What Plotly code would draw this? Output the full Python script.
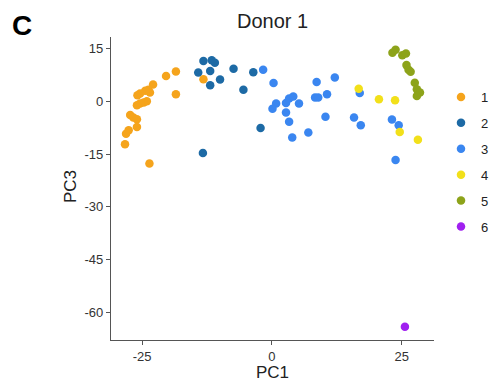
import plotly.graph_objects as go

# PCA coordinates per cluster
c1_pc1 = [-18.5, -20.4, -18.5, -22.9, -23.8, -23.5, -24.4, -25.4, -25.9, -24.1, -24.7, -25.4,
          -26.0, -27.3, -26.7, -26.0, -27.6, -28.1, -28.3, -26.0, -23.6, -13.2]
c1_pc3 = [8.5, 7.2, 2.0, 4.8, 3.3, 2.5, 3.0, 2.2, 1.7, 0.0, -0.3, -0.6,
          -1.1, -3.9, -4.6, -5.1, -8.2, -9.2, -12.2, -7.3, -17.7, 6.3]

c2_pc1 = [-14.2, -11.9, -13.2, -11.6, -11.0, -11.9, -10.0, -7.4, -3.6, -5.5, -2.2, -13.3]
c2_pc3 = [8.2, 8.6, 11.5, 11.7, 11.0, 4.6, 6.2, 9.3, 8.3, 3.3, -7.6, -14.7]

c3_pc1 = [-1.7, 0.3, 0.8, 0.1, 2.7, 3.3, 4.1, 5.2, 2.7, 3.3, 3.9, 7.0, 8.6, 8.3, 8.9,
          10.6, 10.3, 12.1, 16.9, 15.8, 17.1, 23.1, 24.4, 23.8]
c3_pc3 = [9.0, 5.2, -0.6, -2.1, -0.5, 0.8, 1.4, -0.6, -3.2, -5.8, -10.3, -8.9, 5.5, 1.1, 1.1,
          2.0, -4.4, 6.8, 2.4, -4.6, -6.8, -5.2, -6.8, -16.7]

c4_pc1 = [16.7, 20.6, 23.7, 24.6, 28.1]
c4_pc3 = [3.6, 0.6, 0.3, -8.7, -10.9]

c5_pc1 = [23.2, 23.8, 25.1, 25.8, 25.9, 26.3, 26.7, 27.5, 27.9, 28.5, 27.9]
c5_pc3 = [13.8, 14.7, 13.1, 13.6, 10.3, 9.0, 8.4, 5.3, 3.4, 2.5, 1.5]

c6_pc1 = [25.6]
c6_pc3 = [-64.1]

clusters = ["1", "2", "3", "4", "5", "6"]
pc1 = [c1_pc1, c2_pc1, c3_pc1, c4_pc1, c5_pc1, c6_pc1]
pc3 = [c1_pc3, c2_pc3, c3_pc3, c4_pc3, c5_pc3, c6_pc3]
colors = ["#F5A41C", "#1D6AA5", "#3A86F0", "#F2E01A", "#8DA31A", "#A020F0"]

x_ticks = [-25, 0, 25]
y_ticks = [15, 0, -15, -30, -45, -60]

font_family = "Arial, Liberation Sans, sans-serif"

# page geometry (px)
W, H = 490, 381
ML, MR, MT, MB = 111, 0, 37, 41
PW, PH = W - ML - MR, H - MT - MB
plot_right = 434


def px_x(p):
    return (p - ML) / PW


def px_y(p):
    return 1 - (p - MT) / PH


fig = go.Figure()
for name, xs, ys, col in zip(clusters, pc1, pc3, colors):
    fig.add_trace(go.Scatter(
        x=xs, y=ys, mode="markers", name=name, legendgroup=name,
        marker=dict(color=col, size=8.5, line=dict(width=0)),
    ))

axis_common = dict(
    showgrid=False, zeroline=False, showline=True, linecolor="#555555", linewidth=1.2,
    ticks="outside", ticklen=4, tickcolor="#555555", tickwidth=1, automargin=False,
    tickfont=dict(family=font_family, size=13, color="#333333"),
)

fig.update_layout(
    width=W, height=H,
    margin=dict(l=ML, r=MR, t=MT, b=MB, autoexpand=False),
    paper_bgcolor="white", plot_bgcolor="white",
    font=dict(family=font_family, color="#222222"),
    showlegend=True,
    legend=dict(
        x=px_x(441), y=px_y(82), xanchor="left", yanchor="top",
        font=dict(family=font_family, size=13, color="#222222"),
        tracegroupgap=6, bgcolor="rgba(0,0,0,0)",
    ),
    xaxis=dict(domain=[0, px_x(plot_right)], range=[-31.0, 31.2],
               tickvals=x_ticks, ticktext=[str(v) for v in x_ticks], **axis_common),
    yaxis=dict(range=[-67.9, 18.3], tickvals=y_ticks, ticktext=[str(v) for v in y_ticks],
               **axis_common),
    annotations=[
        dict(text="Donor 1", x=px_x(272), y=px_y(21), xref="paper", yref="paper",
             xanchor="center", yanchor="middle", showarrow=False,
             font=dict(family=font_family, size=20, color="#222222")),
        dict(text="PC1", x=px_x(272), y=px_y(372), xref="paper", yref="paper",
             xanchor="center", yanchor="middle", showarrow=False,
             font=dict(family=font_family, size=17, color="#222222")),
        dict(text="PC3", x=px_x(70), y=px_y(187), xref="paper", yref="paper",
             xanchor="center", yanchor="middle", showarrow=False, textangle=-90,
             font=dict(family=font_family, size=17, color="#222222")),
        dict(text="<b>C</b>", x=px_x(22), y=px_y(26), xref="paper", yref="paper",
             xanchor="center", yanchor="middle", showarrow=False,
             font=dict(family="Liberation Sans, Arial, sans-serif", size=28, color="black")),
    ],
)

fig.write_html("out.html")
